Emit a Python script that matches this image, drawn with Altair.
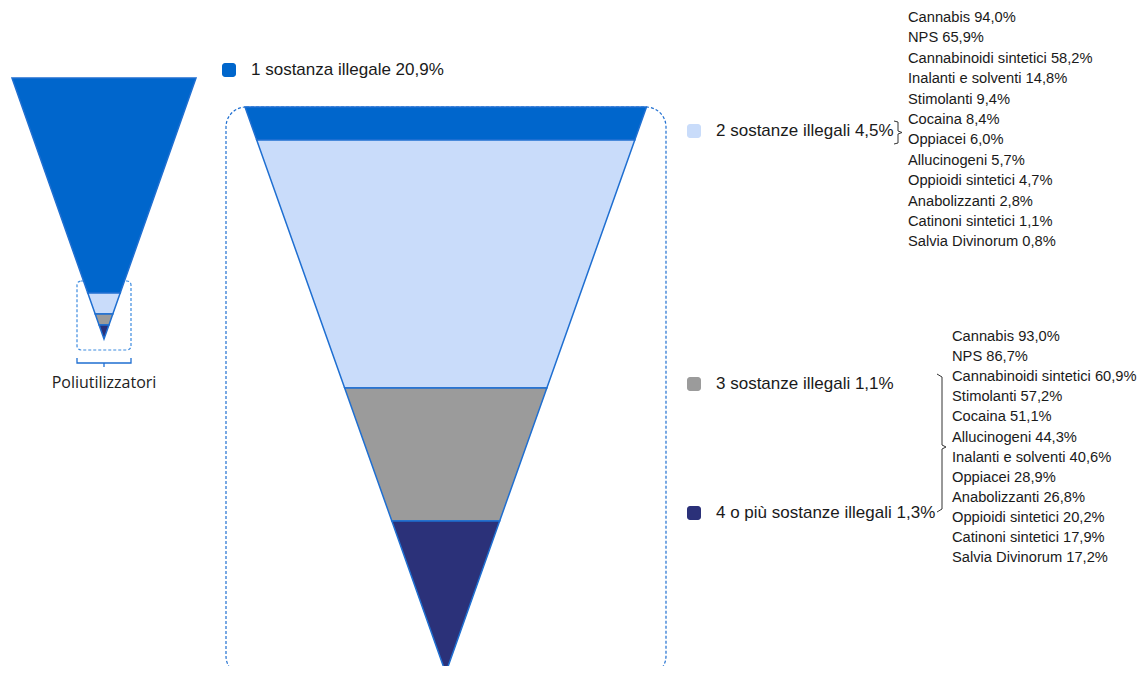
import altair as alt
import pandas as pd

# ---------------- data ----------------
categories = ["1 sostanza illegale", "2 sostanze illegali", "3 sostanze illegali",
              "4 o più sostanze illegali"]
shares = [20.9, 4.5, 1.1, 1.3]
colors = ["#0066CC", "#C9DCFA", "#9B9B9B", "#2B3179"]

drugs_2 = ["Cannabis", "NPS", "Cannabinoidi sintetici", "Inalanti e solventi", "Stimolanti",
           "Cocaina", "Oppiacei", "Allucinogeni", "Oppioidi sintetici", "Anabolizzanti",
           "Catinoni sintetici", "Salvia Divinorum"]
pct_2 = [94.0, 65.9, 58.2, 14.8, 9.4, 8.4, 6.0, 5.7, 4.7, 2.8, 1.1, 0.8]

drugs_3 = ["Cannabis", "NPS", "Cannabinoidi sintetici", "Stimolanti", "Cocaina", "Allucinogeni",
           "Inalanti e solventi", "Oppiacei", "Anabolizzanti", "Oppioidi sintetici",
           "Catinoni sintetici", "Salvia Divinorum"]
pct_3 = [93.0, 86.7, 60.9, 57.2, 51.1, 44.3, 40.6, 28.9, 26.8, 20.2, 17.9, 17.2]

small_label = "Poliutilizzatori"

# ---------------- layout (page pixel space) ----------------
W, H = 1131, 658
X0, Y0 = 8, 8
SMALL = dict(bounds=[78, 293, 314, 325, 339], xl=12, xr=196)
BIG = dict(bounds=[107, 140, 388, 521, 673], xl=245, xr=646.5)

NARROW = "Liberation Sans Narrow, Arial Narrow, Liberation Sans, sans-serif"


def fmt(v):
    return f"{v:.1f}".replace(".", ",") + "%"


def funnel_rows(name, spec):
    b = spec["bounds"]
    top, apex = b[0], b[-1]
    cx = (spec["xl"] + spec["xr"]) / 2
    hw = (spec["xr"] - spec["xl"]) / 2
    rows = []
    for i, cat in enumerate(categories):
        for yy in (b[i], b[i + 1]):
            h = hw * (apex - yy) / (apex - top)
            rows.append(dict(key=f"{name}-{i}", cat=cat, y=yy, x=cx - h, x2=cx + h))
    return rows


funnel_df = pd.DataFrame(funnel_rows("s", SMALL) + funnel_rows("b", BIG))

xs = alt.Scale(domain=[X0, X0 + W], nice=False, zero=False)
ys = alt.Scale(domain=[Y0, Y0 + H], nice=False, zero=False, reverse=True)
X = alt.X("x:Q", scale=xs, axis=None)
Y = alt.Y("y:Q", scale=ys, axis=None)

color = alt.Color("cat:N", scale=alt.Scale(domain=categories, range=colors), legend=None)

boxes = pd.DataFrame([
    dict(x=77, x2=131, y=281, y2=350),
    dict(x=226, x2=666, y=107, y2=676),
])
box_small = alt.Chart(boxes.iloc[[0]]).mark_rect(
    fillOpacity=0, stroke="#3D8BE0", strokeWidth=1.2, strokeDash=[3, 2], cornerRadius=4
).encode(x=X, x2="x2:Q", y=Y, y2="y2:Q")
box_big = alt.Chart(boxes.iloc[[1]]).mark_rect(
    fillOpacity=0, stroke="#1F6FD1", strokeWidth=1.2, strokeDash=[3, 2], cornerRadius=20
).encode(x=X, x2="x2:Q", y=Y, y2="y2:Q")

funnels = alt.Chart(funnel_df).mark_area(
    orient="horizontal", stroke="#1F6FD1", strokeWidth=1.5, opacity=1
).encode(y=Y, x=X, x2="x2:Q", color=color, detail="key:N")

leg_pos = [(229, 70), (694, 131), (694, 384), (694, 513)]
leg_df = pd.DataFrame([
    dict(cat=c, label=f"{c} {fmt(v)}", x=p[0] - 7, x2=p[0] + 7, y=p[1] - 7, y2=p[1] + 7,
         tx=p[0] + 22, ty=p[1])
    for c, v, p in zip(categories, shares, leg_pos)
])
leg_sq = alt.Chart(leg_df).mark_rect(cornerRadius=3).encode(
    x=X, x2="x2:Q", y=Y, y2="y2:Q", color=color)
leg_txt = alt.Chart(leg_df).mark_text(
    align="left", baseline="middle", font=NARROW, fontSize=17, color="#1a1a1a"
).encode(x=alt.X("tx:Q", scale=xs, axis=None), y=alt.Y("ty:Q", scale=ys, axis=None),
         text="label:N")

list_rows = []
for i, (d, v) in enumerate(zip(drugs_2, pct_2)):
    list_rows.append(dict(x=908, y=18 + i * 20.4, label=f"{d} {fmt(v)}"))
for i, (d, v) in enumerate(zip(drugs_3, pct_3)):
    list_rows.append(dict(x=952, y=337 + i * 20.1, label=f"{d} {fmt(v)}"))
lists = alt.Chart(pd.DataFrame(list_rows)).mark_text(
    align="left", baseline="middle", font=NARROW, fontSize=14.7, color="#1a1a1a"
).encode(x=X, y=Y, text="label:N")

br_paths = {
    "b1": [(894, 121), (898, 122), (898, 131), (902, 132.5), (898, 134), (898, 143), (894, 144)],
    "b2": [(937, 374), (942, 377), (942, 445), (946, 447), (942, 449), (942, 509), (937, 512)],
}
br_rows = [dict(p=k, o=j, x=px, y=py) for k, pts in br_paths.items() for j, (px, py) in enumerate(pts)]
brackets = alt.Chart(pd.DataFrame(br_rows)).mark_line(
    color="#333333", strokeWidth=1
).encode(x=X, y=Y, detail="p:N", order="o:Q")

sb_paths = {
    "s1": [(77, 358), (77, 363), (131, 363), (131, 358)],
    "s2": [(104, 363), (104, 367)],
}
sb_rows = [dict(p=k, o=j, x=px, y=py) for k, pts in sb_paths.items() for j, (px, py) in enumerate(pts)]
small_br = alt.Chart(pd.DataFrame(sb_rows)).mark_line(
    color="#1F6FD1", strokeWidth=1.3
).encode(x=X, y=Y, detail="p:N", order="o:Q")

small_txt = alt.Chart(pd.DataFrame([dict(x=104, y=383, label=small_label)])).mark_text(
    align="center", baseline="middle", font="Open Sans", fontSize=16, color="#222222"
).encode(x=X, y=Y, text="label:N")

chart = alt.layer(
    box_small, box_big, funnels, leg_sq, leg_txt, lists, brackets, small_br, small_txt
).properties(
    width=W, height=H, autosize=alt.AutoSizeParams(type="none"), padding=0
).configure_view(stroke=None)

chart.save("out.html", embed_options={"renderer": "svg", "actions": False})
